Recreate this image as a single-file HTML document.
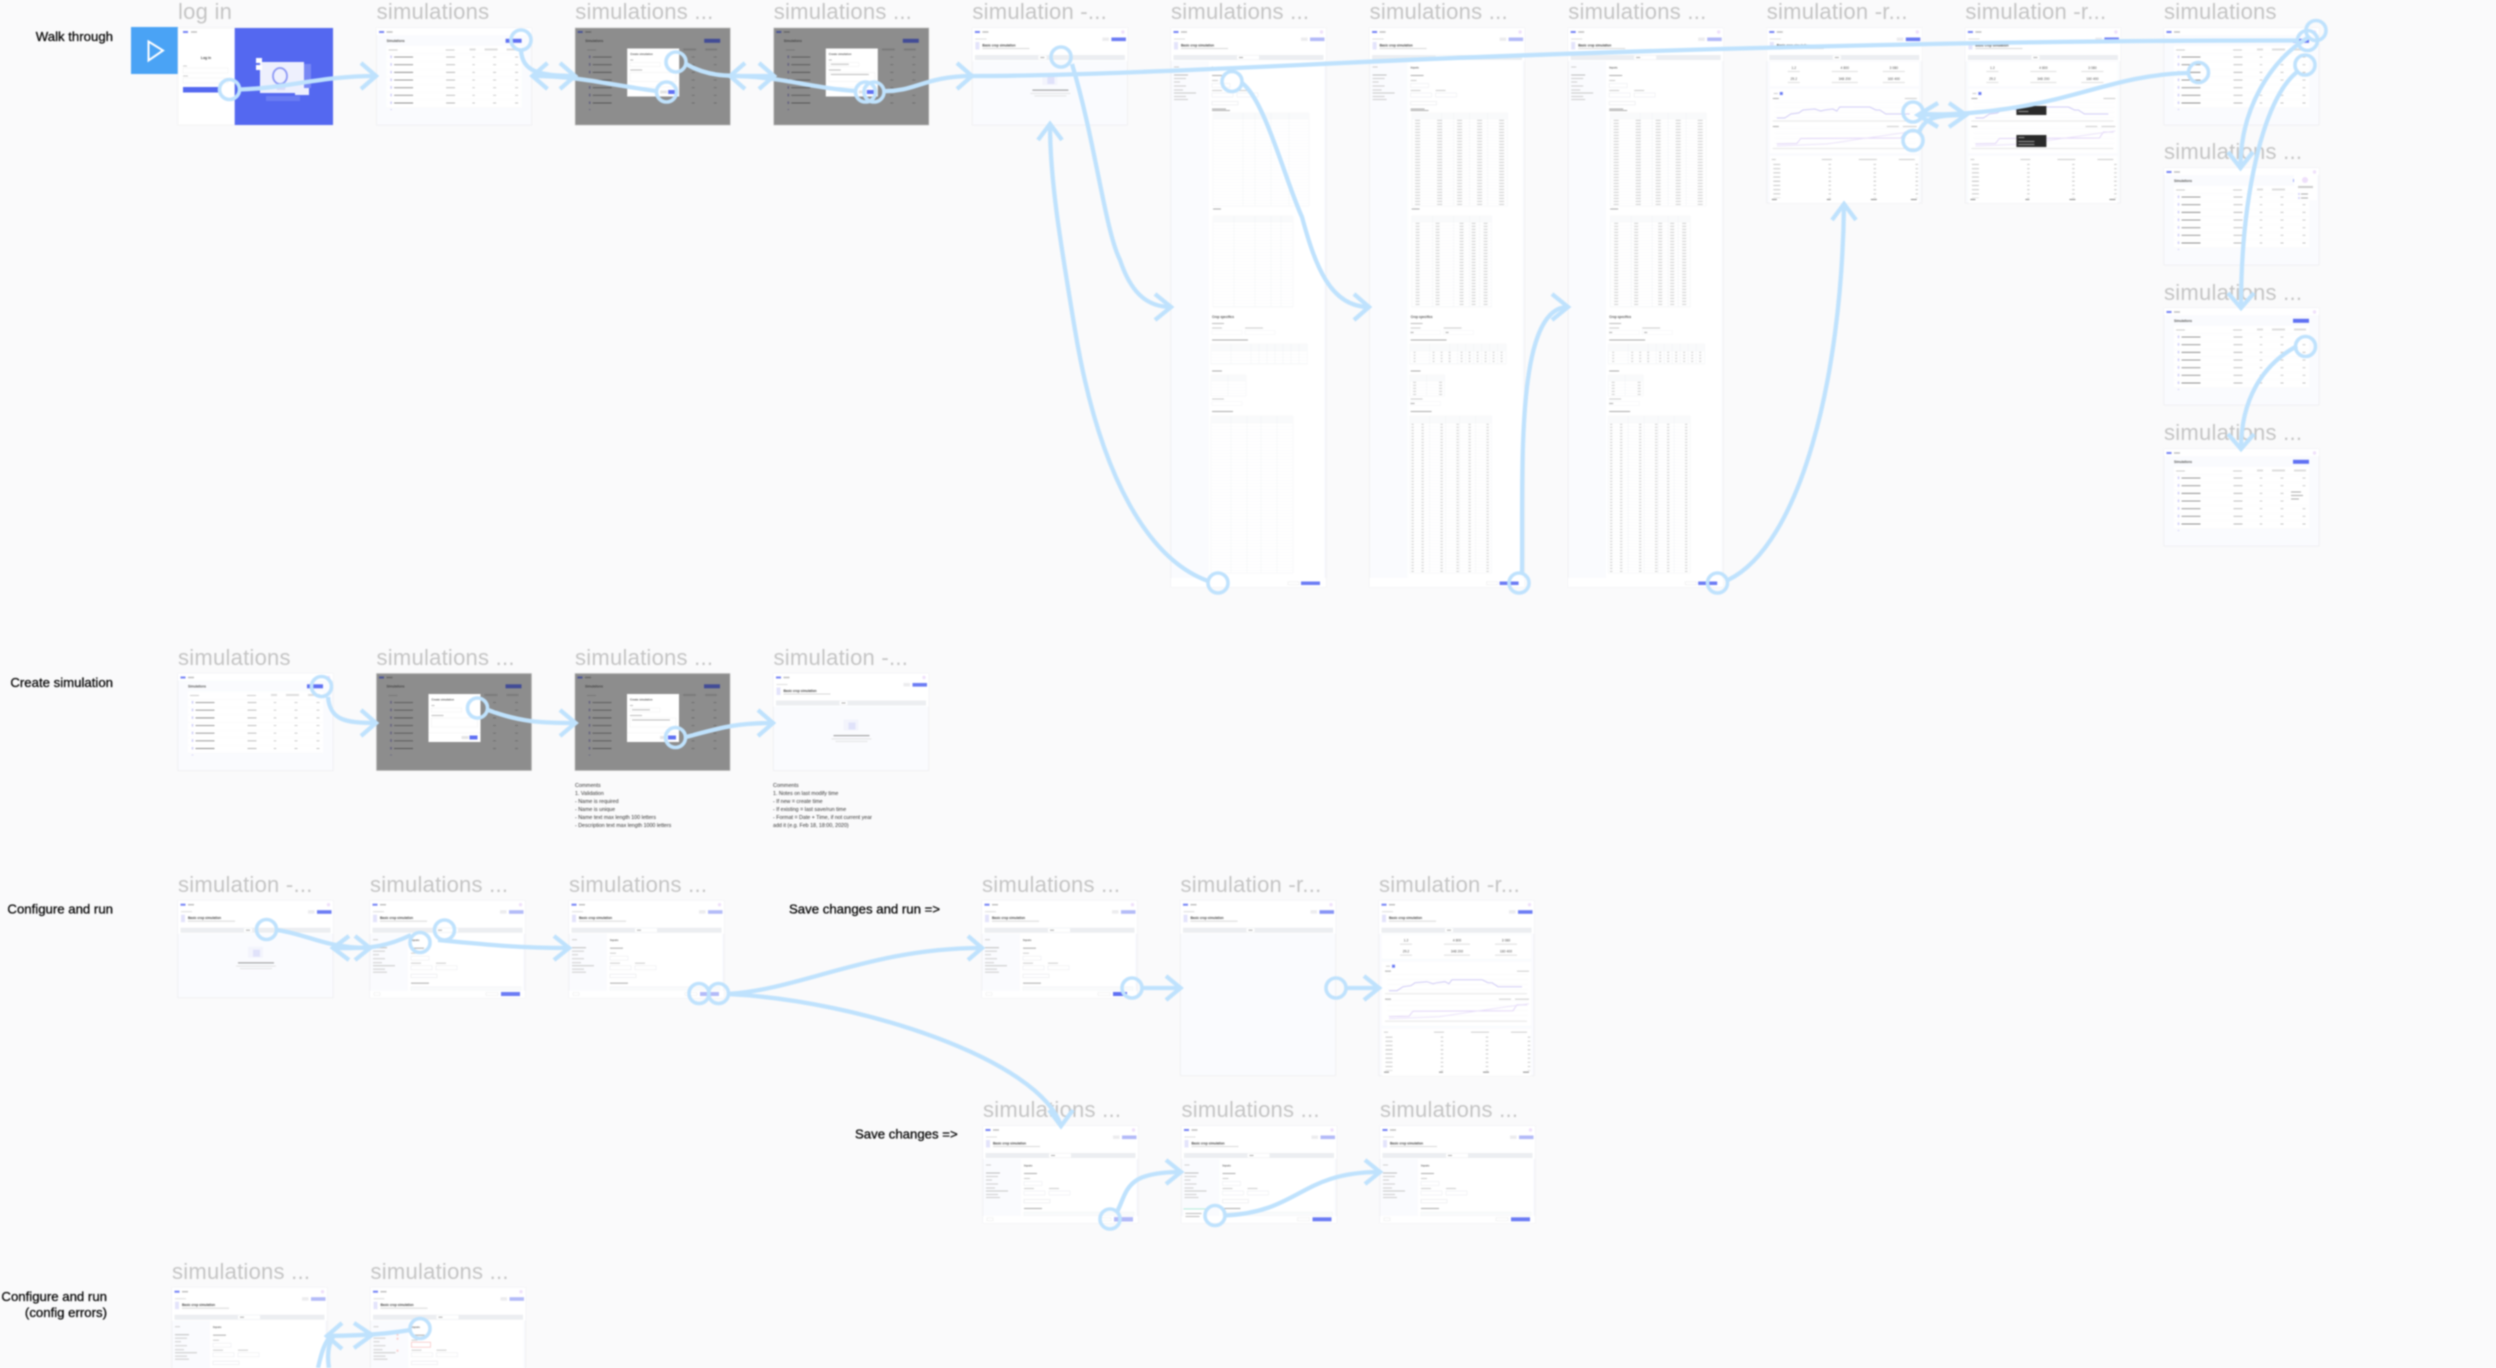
<!DOCTYPE html>
<html lang="en"><head><meta charset="utf-8"><title>Walk through flow</title>
<style>
html,body{margin:0;padding:0;width:2496px;height:1368px;overflow:hidden;background:#fafafb}
svg{display:block;filter:blur(.7px);font-family:"Liberation Sans",sans-serif}
.l{font-size:22px;fill:#c4c4c4;letter-spacing:.25px}
.h{font-size:13.2px;fill:#000;stroke:#000;stroke-width:.25}
.c{font-size:5.3px;fill:#333}
.cn{fill:none;stroke:#bfe2fd;stroke-width:4.3;stroke-linejoin:miter}
.r{fill:none;stroke:#bfe2fd;stroke-width:3.6}
</style></head><body>
<svg xmlns="http://www.w3.org/2000/svg" width="2496" height="1368" viewBox="0 0 2496 1368">
<defs>
<g id="hdr">
<rect x="2.5" y="3" width="5" height="2" fill="#7482f5"/><rect x="10" y="3.3" width="6" height="1.4" fill="#bbb"/><circle cx="150.5" cy="4" r="1.7" fill="#efe0fb"/>
</g>
<g id="listbody">
<text x="10" y="13.8" font-size="3.2" font-weight="bold" fill="#555">Simulations</text>
<rect x="10" y="18" width="135" height="62" fill="#fff"/>
<line x1="77" x2="77" y1="25.8" y2="80" stroke="#f3f4f6" stroke-width="135" stroke-dasharray=".3 7.36"/>
<rect x="12" y="21.5" width="9" height="1" fill="#ccc"/><rect x="69" y="21.5" width="9" height="1" fill="#ccc"/><rect x="93" y="20.5" width="6" height="2" fill="#ddd"/><rect x="108" y="20.5" width="13" height="2" fill="#ddd"/><rect x="130" y="20.5" width="12" height="2" fill="#ddd"/>
<line x1="14.5" x2="14.5" y1="27.5" y2="82" stroke="#cfcdf8" stroke-width="1.6" stroke-dasharray="2.6 5.06"/>
<line x1="27" x2="27" y1="28.6" y2="82" stroke="#8a8a8a" stroke-width="19" stroke-dasharray=".9 6.76"/>
<line x1="74" x2="74" y1="28.6" y2="82" stroke="#b5b5b5" stroke-width="9" stroke-dasharray=".9 6.76"/>
<line x1="97" x2="97" y1="28.6" y2="82" stroke="#c2c2c2" stroke-width="2.5" stroke-dasharray=".9 6.76"/>
<line x1="118" x2="118" y1="28.6" y2="82" stroke="#c2c2c2" stroke-width="3" stroke-dasharray=".9 6.76"/>
<line x1="140" x2="140" y1="28.6" y2="82" stroke="#c2c2c2" stroke-width="3" stroke-dasharray=".9 6.76"/>
</g>
<g id="list">
<rect width="155" height="97" fill="#fafbfe" stroke="#eeeef0" stroke-width=".8"/><rect width="155" height="7" fill="#fff"/>
<use href="#hdr"/><use href="#listbody"/><rect x="129" y="10.8" width="16" height="4" fill="#5f70f3"/>
</g>
<g id="listPop">
<use href="#list"/><rect x="125" y="9" width="22" height="7" fill="#fafbfe"/><rect x="129" y="11" width="2" height="3" fill="#a3acf7"/>
<rect x="130" y="7" width="23" height="25" fill="#fff"/><circle cx="141" cy="12" r="3" fill="#efe0fb"/><rect x="134" y="18" width="15" height="2" fill="#ccc"/><rect x="134" y="25" width="2" height="2" fill="#d9d7fb"/><rect x="137" y="25.5" width="7" height="1" fill="#aaa"/><rect x="134" y="29" width="2" height="2" fill="#d9d7fb"/><rect x="137" y="29.5" width="7" height="1" fill="#aaa"/>
</g>
<g id="listDrop">
<use href="#list"/><rect x="126" y="40" width="18" height="14" fill="#fff"/><rect x="127" y="42.5" width="10" height="1" fill="#aaa"/><rect x="127" y="46" width="12" height="1" fill="#aaa"/><rect x="127" y="49.5" width="8" height="1" fill="#aaa"/>
</g>
<g id="dim">
<rect width="155" height="97" fill="#8d8d8d" stroke="#bbb" stroke-width=".6"/>
<rect x="2.5" y="3" width="5" height="2" fill="#4a5496"/><rect x="10" y="3.3" width="6" height="1.4" fill="#666"/>
<text x="10" y="13.8" font-size="3.2" font-weight="bold" fill="#444">Simulations</text>
<rect x="129" y="10.8" width="16" height="4" fill="#424c96"/>
<rect x="12" y="21.5" width="9" height="1" fill="#777"/><rect x="108" y="20.5" width="13" height="2" fill="#7b7b7b"/><rect x="130" y="20.5" width="12" height="2" fill="#7b7b7b"/>
<line x1="14.5" x2="14.5" y1="27.5" y2="82" stroke="#64627f" stroke-width="1.6" stroke-dasharray="2.6 5.06"/>
<line x1="27" x2="27" y1="28.6" y2="82" stroke="#555" stroke-width="19" stroke-dasharray=".9 6.76"/>
<line x1="118" x2="118" y1="28.6" y2="82" stroke="#6c6c6c" stroke-width="3" stroke-dasharray=".9 6.76"/>
<line x1="140" x2="140" y1="28.6" y2="82" stroke="#6c6c6c" stroke-width="3" stroke-dasharray=".9 6.76"/>
<rect x="52" y="20.5" width="52" height="48" fill="#fff"/>
<text x="55" y="27" font-size="2.7" font-weight="bold" fill="#555">Create simulation</text>
<rect x="55" y="31.5" width="3" height="1" fill="#bbb"/><rect x="55" y="34.5" width="30" height="4" fill="none" stroke="#efefef" stroke-width=".5"/>
<rect x="55" y="41.5" width="12" height="1" fill="#bbb"/><rect x="55" y="44.5" width="46" height="9" fill="none" stroke="#efefef" stroke-width=".5"/>
<rect x="52" y="59" width="52" height=".4" fill="#eee"/>
<rect x="85" y="62.5" width="7" height="3" fill="#e4e4e4"/><rect x="93" y="62" width="8" height="4" fill="#5f70f3"/>
</g>
<g id="modalB"><use href="#dim"/><rect x="57" y="35.8" width="18" height="1" fill="#bbb"/><rect x="57" y="46" width="38" height="1" fill="#bbb"/></g>
<g id="top">
<rect width="155" height="33" fill="#fff"/><use href="#hdr"/>
<rect x="3" y="10.5" width="11" height="1" fill="#ddd"/>
<rect x="130" y="9.5" width="6.5" height="3.4" fill="#ececee"/>
<rect x="3" y="14" width="4" height="7.5" fill="#e4e4fb"/>
<text x="10" y="18.5" font-size="3.2" font-weight="bold" fill="#444">Basic crop simulation</text>
<rect x="10" y="20" width="47" height="1" fill="#d8d8d8"/>
<rect x="2.5" y="27" width="150" height="5" fill="#eceef1"/>
<rect x="66" y="27.6" width="8" height="3.8" fill="#fff"/><rect x="68" y="29" width="4" height="1" fill="#aaa"/>
</g>
<g id="base"><rect width="155" height="97" fill="#fafbfe" stroke="#eeeef0" stroke-width=".8"/><use href="#top"/></g>
<g id="empty">
<use href="#base"/><rect x="139" y="9.5" width="14.5" height="3.6" fill="#6b7bf4"/>
<rect x="70" y="46" width="15" height="11" fill="#f3f4fc"/><rect x="75" y="49" width="7" height="7" fill="#e0e2fa"/>
<rect x="60" y="61.7" width="36" height=".9" fill="#888"/><rect x="58" y="65" width="40" height=".8" fill="#ddd"/><rect x="62" y="67.5" width="32" height=".8" fill="#ddd"/>
</g>
<g id="emptyRun">
<rect width="155" height="175" fill="#fafbfe" stroke="#eeeef0" stroke-width=".8"/><use href="#top"/><rect x="139" y="9.5" width="14.5" height="3.6" fill="#8693f6"/>
</g>
<g id="side">
<rect x="74" y="27.6" width="14" height="3.8" fill="#fff"/>
<rect x="3" y="38.5" width="5" height="1" fill="#ccc"/><rect x="3" y="46.5" width="14" height="1" fill="#bbb"/><rect x="3" y="50" width="12" height="1" fill="#ccc"/><rect x="3" y="53.5" width="6" height="1" fill="#ccc"/><rect x="3" y="57.5" width="12" height="1" fill="#ccc"/><rect x="3" y="61.5" width="9" height="1" fill="#ccc"/><rect x="3" y="64.5" width="22" height="1" fill="#c6c6c6"/><rect x="3" y="68" width="12" height="1" fill="#ccc"/><rect x="3" y="71" width="14" height="1" fill="#ccc"/>
<rect x="38" y="33" width="115" height="60" fill="#fff"/>
<text x="41" y="40.5" font-size="2.8" font-weight="bold" fill="#666">Inputs</text>
<rect x="41" y="47" width="13" height="1" fill="#aaa"/><rect x="41" y="52" width="6" height="1" fill="#ccc"/><rect x="41" y="55.5" width="18" height="4" fill="none" stroke="#e8e9ed" stroke-width=".5"/>
<rect x="41" y="62" width="10" height="1" fill="#ccc"/><rect x="66" y="62" width="10" height="1" fill="#ccc"/>
<rect x="41" y="65" width="21" height="4" fill="none" stroke="#e8e9ed" stroke-width=".5"/><rect x="66" y="65" width="21" height="4" fill="none" stroke="#e8e9ed" stroke-width=".5"/>
<rect x="41" y="73.5" width="26" height="3.4" fill="none" stroke="#e3e4e8" stroke-width=".5"/>
<rect x="41" y="82" width="18" height="1" fill="#aaa"/>
</g>
<g id="config">
<use href="#base"/><rect x="139" y="9.5" width="14.5" height="3.6" fill="#b3baf8"/><use href="#side"/>
<rect x="41" y="86" width="110" height="4" fill="#f9fafb" stroke="#eeeff2" stroke-width=".4"/>
<rect y="90" width="155" height="7" fill="#fff"/><rect x="4" y="91.8" width="6" height="3" fill="none" stroke="#e3e3e3" stroke-width=".4"/>
<rect x="116" y="91.8" width="12" height="3" fill="none" stroke="#e3e3e3" stroke-width=".4"/><rect x="131" y="91.3" width="19" height="4" fill="#6b7bf4"/>
</g>
<g id="configSave"><use href="#config"/><rect x="131" y="91.3" width="19" height="4" fill="#fff"/><rect x="131" y="91.3" width="14" height="4" fill="#5f70f3"/></g>
<g id="configLite"><use href="#config"/><rect x="131" y="91.3" width="19" height="4" fill="#b3baf8"/></g>
<g id="configGreen"><use href="#config"/><rect x="2" y="83" width="22" height="14" fill="#fff"/><rect x="2" y="82.5" width="22" height=".8" fill="#9fe4cf"/><rect x="4" y="87" width="16" height="1" fill="#bbb"/><rect x="4" y="90" width="14" height="1" fill="#bbb"/></g>
<g id="configErr"><use href="#config"/><rect x="41" y="54.5" width="19" height="5" fill="#fff" stroke="#f4a8a8" stroke-width=".5"/><rect x="26" y="46" width="2" height="2" fill="#f9cfcf"/><rect x="26" y="50" width="2" height="2" fill="#f9cfcf"/><rect x="26" y="62" width="2" height="2" fill="#f9cfcf"/></g>
<g id="tall">
<rect width="155" height="559" fill="#fafbfe" stroke="#eeeef0" stroke-width=".8"/><use href="#top"/><rect x="139" y="9.5" width="14.5" height="3.6" fill="#b3baf8"/><use href="#side"/>
<rect x="38" y="93" width="115" height="457" fill="#fff"/>
<rect x="41" y="80.5" width="14" height="1" fill="#aaa"/>
<rect x="42" y="85" width="96" height="93" fill="#fff" stroke="#eef0f3" stroke-width=".4"/><rect x="42" y="85" width="96" height="6" fill="#f9fafb"/>
<line x1="90" x2="90" y1="91" y2="178" stroke="#f0f2f4" stroke-width="96" stroke-dasharray=".3 2.7"/>
<path d="M72 85v93M84 85v93M100 85v93M118 85v93" stroke="#eef0f3" stroke-width=".4" fill="none"/>
<rect x="42" y="180.5" width="8" height="1" fill="#aaa"/>
<rect x="42" y="188" width="80" height="91" fill="#fff" stroke="#eef0f3" stroke-width=".4"/><rect x="42" y="188" width="80" height="6" fill="#f9fafb"/>
<line x1="82" x2="82" y1="194" y2="279" stroke="#f0f2f4" stroke-width="80" stroke-dasharray=".3 2.7"/>
<path d="M63 188v91M84 188v91M100 188v91M110 188v91" stroke="#eef0f3" stroke-width=".4" fill="none"/>
<text x="41" y="290" font-size="3.2" font-weight="bold" fill="#555">Crop specifics</text>
<rect x="41" y="295" width="12" height="1" fill="#bbb"/><rect x="41" y="299.5" width="10" height="1" fill="#ccc"/><rect x="74" y="299.5" width="18" height="1" fill="#ccc"/><rect x="41" y="302.5" width="30" height="4" fill="none" stroke="#eef0f3" stroke-width=".4"/><rect x="74" y="302.5" width="30" height="4" fill="none" stroke="#eef0f3" stroke-width=".4"/>
<rect x="41" y="311.5" width="36" height="1" fill="#aaa"/>
<rect x="40" y="316" width="96.5" height="20" fill="#fff" stroke="#eef0f3" stroke-width=".4"/><rect x="40" y="316" width="96.5" height="7" fill="#f9fafb"/>
<line x1="88" x2="88" y1="323" y2="336" stroke="#f0f2f4" stroke-width="96" stroke-dasharray=".3 2.7"/>
<path d="M60 316v20M80 316v20M88 316v20M96 316v20M104 316v20M112 316v20M120 316v20M128 316v20" stroke="#eef0f3" stroke-width=".4" fill="none"/>
<rect x="41" y="342.5" width="10" height="1" fill="#aaa"/>
<rect x="40" y="347" width="35" height="21" fill="#fff" stroke="#eef0f3" stroke-width=".4"/><rect x="40" y="347" width="35" height="6" fill="#f9fafb"/>
<line x1="57.5" x2="57.5" y1="353" y2="368" stroke="#f0f2f4" stroke-width="35" stroke-dasharray=".3 2.7"/>
<path d="M57 347v21" stroke="#eef0f3" stroke-width=".4"/>
<rect x="41" y="370.5" width="12" height="1" fill="#ccc"/><rect x="41" y="373.5" width="30" height="4" fill="none" stroke="#eef0f3" stroke-width=".4"/>
<rect x="41" y="383" width="21" height="1" fill="#aaa"/>
<rect x="40" y="388" width="82" height="157" fill="#fff" stroke="#eef0f3" stroke-width=".4"/><rect x="40" y="388" width="82" height="7" fill="#f9fafb"/>
<line x1="81" x2="81" y1="395" y2="545" stroke="#f0f2f4" stroke-width="82" stroke-dasharray=".3 2.7"/>
<path d="M60 388v157M76 388v157M90 388v157M106 388v157" stroke="#eef0f3" stroke-width=".4" fill="none"/>
<rect y="550" width="155" height="9" fill="#fff"/>
<rect x="117" y="553.8" width="11" height="3" fill="none" stroke="#e3e3e3" stroke-width=".4"/><rect x="130" y="553.5" width="19" height="3.5" fill="#6b7bf4"/>
</g>
<g id="tallData">
<use href="#tall"/>
<g stroke="#bdbdbd" stroke-dasharray=".7 2.3" fill="none">
<path d="M48 92V178M70 92V178M90 92V178M110 92V178M132 92V178" stroke-width="5"/>
<path d="M48 195V279M68 195V279M92 195V279M104 195V279M116 195V279" stroke-width="4"/>
<path d="M45 324V336M64 324V336M72 324V336M80 324V336M92 324V336M100 324V336M108 324V336M116 324V336M124 324V336M132 324V336" stroke-width="2"/>
<path d="M45 354V368M71 354V368" stroke-width="3"/>
<path d="M43 396V545M53 396V545M72 396V545M88 396V545M100 396V545M118 396V545" stroke-width="2.4"/>
</g>
<rect x="41" y="304" width="3" height="1" fill="#aaa"/><rect x="76" y="304" width="3" height="1" fill="#aaa"/>
<rect x="41" y="375" width="4" height="1" fill="#aaa"/>
</g>
<g id="result">
<rect width="155" height="175" fill="#fafbfe" stroke="#eeeef0" stroke-width=".8"/><use href="#top"/><rect x="139" y="9.5" width="14.5" height="3.6" fill="#6b7bf4"/>
<rect x="3" y="34" width="149" height="24" fill="#fff"/>
<g font-size="3.4" fill="#555" text-anchor="middle"><text x="27" y="41">1.2</text><text x="78" y="41">4 800</text><text x="127" y="41">3 080</text><text x="27" y="52">29.2</text><text x="78" y="52">348 200</text><text x="127" y="52">160 400</text></g>
<g fill="#ddd"><rect x="21" y="43" width="12" height="1"/><rect x="65" y="43" width="26" height="1"/><rect x="116" y="43" width="22" height="1"/><rect x="21" y="54" width="12" height="1"/><rect x="65" y="54" width="26" height="1"/><rect x="116" y="54" width="22" height="1"/></g>
<rect x="3" y="61" width="149" height="64" fill="#fff"/>
<rect x="7" y="65" width="4" height="1" fill="#ccc"/><rect x="13" y="64" width="3" height="3" fill="#6b7bf4"/>
<rect x="6" y="70" width="6" height="1" fill="#aaa"/><rect x="138" y="70" width="12" height="1" fill="#ccc"/>
<path d="M8 74h141M8 79h141M8 84h141M8 89h141M8 100h141M8 105h141M8 110h141M8 115h141" stroke="#f4f4f6" stroke-width=".4"/>
<path d="M10 90h8l6-4 8-1 4-3 12-1 6 2 4-1 8-1 4 2 3-4 30 0 6 3 4 0 6 4 24 0" fill="none" stroke="#cfcaf6" stroke-width="1"/>
<rect x="6" y="98" width="6" height="1" fill="#aaa"/><rect x="120" y="98" width="12" height="1" fill="#ccc"/><rect x="136" y="98" width="14" height="1" fill="#ccc"/>
<path d="M10 116l20-.5 4-5 100-.5 4-6 10 0" fill="none" stroke="#e2d5f8" stroke-width="1"/><path d="M10 118l50-2 40-6 50-7" fill="none" stroke="#ebe3fa" stroke-width="1"/>
<g fill="#e6e6e6"><rect x="6" y="92.5" width="142" height="1"/><rect x="6" y="120" width="142" height="1"/></g>
<rect x="3" y="128" width="149" height="47" fill="#fff"/>
<g stroke="#c0c0c0" fill="none" stroke-dasharray=".9 3.3"><path d="M10 136V170" stroke-width="7"/><path d="M63 136V170" stroke-width="2.5"/><path d="M108 136V170" stroke-width="2.5"/><path d="M150 136V170" stroke-width="2.5"/></g>
<rect x="5" y="131" width="4" height="1" fill="#ccc"/><rect x="55" y="131" width="10" height="1" fill="#ccc"/><rect x="92" y="131" width="18" height="1" fill="#ccc"/><rect x="132" y="131" width="16" height="1" fill="#ccc"/>
<rect x="5" y="171" width="5" height="1" fill="#888"/><rect x="60" y="171" width="4" height="1" fill="#888"/><rect x="104" y="171" width="6" height="1" fill="#888"/><rect x="144" y="171" width="6" height="1" fill="#888"/>
</g>
<g id="result2"><use href="#result"/><rect x="51" y="78" width="30" height="9" fill="#2a2a2a"/><rect x="53" y="83" width="10" height="1" fill="#999"/><rect x="51" y="107" width="30" height="12" fill="#2a2a2a"/><rect x="53" y="109" width="6" height="1" fill="#999"/><rect x="53" y="113" width="16" height="1" fill="#999"/><rect x="53" y="116" width="16" height="1" fill="#999"/></g>
<g id="login">
<rect width="155" height="97" fill="#fff" stroke="#eee" stroke-width=".6"/><rect x="56.7" width="98.3" height="97" fill="#5468f0"/>
<rect x="5" y="3" width="5" height="2" fill="#7482f5"/><rect x="13" y="3.3" width="6" height="1.4" fill="#bbb"/>
<text x="28" y="31" font-size="3.4" font-weight="bold" fill="#444" text-anchor="middle">Log in</text>
<rect x="5" y="37.5" width="4" height="1" fill="#ccc"/><rect x="5" y="40" width="45" height="5" fill="none" stroke="#f0f0f0" stroke-width=".5"/>
<rect x="5" y="47.5" width="5" height="1" fill="#ccc"/><rect x="5" y="50" width="45" height="5" fill="none" stroke="#f0f0f0" stroke-width=".5"/>
<rect x="5" y="59" width="38" height="5.5" fill="#5468f0"/>
<rect x="82" y="34" width="44" height="31" fill="#eef0fd"/><rect x="78" y="30" width="6" height="5" fill="#fff"/><rect x="78" y="37" width="6" height="5" fill="#fff"/><rect x="117" y="60" width="14" height="7" fill="#eef0fd"/><rect x="126" y="36" width="7" height="24" fill="#7787f4"/>
<ellipse cx="102" cy="48" rx="7" ry="8" fill="none" stroke="#8a97f5" stroke-width="1.8"/><path d="M98 58h10l-1 4h-8z" fill="#d6daf9"/><rect x="88" y="68" width="34" height="5" fill="#6a7cf2"/>
</g>
<clipPath id="bot"><rect x="0" y="1200" width="2496" height="168"/></clipPath>
</defs>

<!-- row labels -->
<text class="h" x="113" y="41" text-anchor="end">Walk through</text>
<text class="h" x="113" y="687" text-anchor="end">Create simulation</text>
<text class="h" x="113" y="913.5" text-anchor="end">Configure and run</text>
<text class="h" x="107" y="1301" text-anchor="end">Configure and run</text>
<text class="h" x="107" y="1317" text-anchor="end">(config errors)</text>
<text class="h" x="789" y="913.5">Save changes and run =&gt;</text>
<text class="h" x="855" y="1138.5">Save changes =&gt;</text>

<!-- play -->
<rect x="131" y="27" width="47" height="47" fill="#4aa3f5"/>
<path d="M148.5 41.5L163 50.5L148.5 60.5Z" fill="none" stroke="#fff" stroke-width="2"/>

<!-- frame titles -->
<g>
<text class="l" x="178" y="19">log in</text>
<text class="l" x="376.6" y="19">simulations</text>
<text class="l" x="575.2" y="19">simulations ...</text>
<text class="l" x="773.8" y="19">simulations ...</text>
<text class="l" x="972.4" y="19">simulation -...</text>
<text class="l" x="1171" y="19">simulations ...</text>
<text class="l" x="1369.6" y="19">simulations ...</text>
<text class="l" x="1568.2" y="19">simulations ...</text>
<text class="l" x="1766.8" y="19">simulation -r...</text>
<text class="l" x="1965.4" y="19">simulation -r...</text>
<text class="l" x="2164" y="19">simulations</text>
<text class="l" x="2164" y="159">simulations ...</text>
<text class="l" x="2164" y="300">simulations ...</text>
<text class="l" x="2164" y="440">simulations ...</text>
<text class="l" x="178" y="665">simulations</text>
<text class="l" x="376.5" y="665">simulations ...</text>
<text class="l" x="575" y="665">simulations ...</text>
<text class="l" x="773.5" y="665">simulation -...</text>
<text class="l" x="178" y="892">simulation -...</text>
<text class="l" x="370" y="892">simulations ...</text>
<text class="l" x="569" y="892">simulations ...</text>
<text class="l" x="982" y="892">simulations ...</text>
<text class="l" x="1180.5" y="892">simulation -r...</text>
<text class="l" x="1379" y="892">simulation -r...</text>
<text class="l" x="983" y="1117">simulations ...</text>
<text class="l" x="1181.5" y="1117">simulations ...</text>
<text class="l" x="1380" y="1117">simulations ...</text>
<text class="l" x="172" y="1279">simulations ...</text>
<text class="l" x="370.5" y="1279">simulations ...</text>
</g>

<!-- frames -->
<use href="#login" x="178" y="28"/>
<use href="#list" x="376.6" y="28"/>
<use href="#dim" x="575.2" y="28"/>
<use href="#modalB" x="773.8" y="28"/>
<use href="#empty" x="972.4" y="28"/>
<use href="#tall" x="1171" y="28"/>
<use href="#tallData" x="1369.6" y="28"/>
<use href="#tallData" x="1568.2" y="28"/>
<use href="#result" x="1766.8" y="28"/>
<use href="#result2" x="1965.4" y="28"/>
<use href="#list" x="2164" y="28"/>
<use href="#listPop" x="2164" y="168"/>
<use href="#list" x="2164" y="308"/>
<use href="#listDrop" x="2164" y="449"/>

<use href="#list" x="178" y="673.5"/>
<use href="#dim" x="376.5" y="673.5"/>
<use href="#modalB" x="575" y="673.5"/>
<use href="#empty" x="773.5" y="673.5"/>

<use href="#empty" x="178" y="900.7"/>
<use href="#config" x="370" y="900.7"/>
<use href="#configLite" x="569" y="900.7"/>
<use href="#configSave" x="982" y="900.7"/>
<use href="#emptyRun" x="1180.5" y="900.7"/>
<use href="#result" x="1379" y="900.7"/>
<use href="#configLite" x="983" y="1126"/>
<use href="#configGreen" x="1181.5" y="1126"/>
<use href="#config" x="1380" y="1126"/>
<g clip-path="url(#bot)"><use href="#config" x="172" y="1287.7"/><use href="#configErr" x="370.5" y="1287.7"/></g>

<!-- comments -->
<g class="c">
<text x="575" y="787">Comments</text><text x="575" y="795">1. Validation</text><text x="575" y="803">- Name is required</text><text x="575" y="811">- Name is unique</text><text x="575" y="819">- Name text max length 100 letters</text><text x="575" y="827">- Description text max length 1000 letters</text>
<text x="773" y="787">Comments</text><text x="773" y="795">1. Notes on last modify time</text><text x="773" y="803">- If new = create time</text><text x="773" y="811">- If existing = last save/run time</text><text x="773" y="819">- Format = Date + Time, if not current year</text><text x="773" y="827">add it (e.g. Feb 18, 18:00, 2020)</text>
</g>

<!-- connectors -->
<g class="cn">
<path d="M239 89.5C290 88 320 76 376 76"/><path d="M361 63L376 76L361 89"/>
<path d="M521 50C522 72 540 76 575 76"/><path d="M560 63L575 76L560 89"/>
<path d="M686 64C710 78 730 76 774 76"/><path d="M759 63L774 76L759 89"/>
<path d="M656 91C610 85 580 76 532.5 76"/><path d="M547.5 63L532.5 76L547.5 89"/>
<path d="M856 91C810 88 780 76 730 76"/><path d="M745 63L730 76L745 89"/>
<path d="M884 91C915 92 925 76 972 76"/><path d="M957 63L972 76L957 89"/>
<path d="M2297 40.5C2000 40 1600 50 1300 65C1150 72 1050 76 972 76"/>
<path d="M1072 64C1095 140 1105 230 1120 260C1130 290 1145 307 1171 307"/><path d="M1155 294L1171 307L1155 320"/>
<path d="M1208 581C1150 560 1100 480 1075 330C1060 240 1050 180 1050 124"/><path d="M1038 140L1050 124L1062 140"/>
<path d="M1242 83C1265 100 1285 180 1302 217C1315 265 1330 307 1369 307"/><path d="M1354 294L1369 307L1354 320"/>
<path d="M1522 573C1523 470 1515 307 1568 307"/><path d="M1552 294L1568 307L1552 320"/>
<path d="M1728 580C1800 545 1842 380 1844 204"/><path d="M1832 220L1844 204L1856 220"/>
<path d="M2309 37C2270 60 2240 110 2240.5 168"/><path d="M2228 152L2240.5 168L2253 152"/>
<path d="M2297 72C2262 100 2241 200 2241 308"/><path d="M2228 293L2241 308L2254 293"/>
<path d="M2188 73C2100 75 2060 115 1918 115"/><path d="M1938 103L1918 115L1938 127"/>
<path d="M1923 114L1966 115"/><path d="M1949 103L1966 115L1949 127"/>
<path d="M1919 132C1925 118 1935 115 1966 115"/>
<path d="M2297 346C2262 365 2241 400 2241 449"/><path d="M2228 434L2241 449L2254 434"/>

<path d="M328 697C330 720 345 723 376 723"/><path d="M361 710L376 723L361 736"/>
<path d="M488 710C520 722 540 723 575.5 723"/><path d="M560 710L575.5 723L560 736"/>
<path d="M686 737C720 728 735 723 773 723"/><path d="M758 710L773 723L758 736"/>

<path d="M277 930C310 935 325 948 370 948"/><path d="M355 936L370 948L355 960"/>
<path d="M411 935C380 950 360 948 333 948"/><path d="M349 936L333 948L349 960"/>
<path d="M438 940C490 945 520 948 569 948"/><path d="M554 936L569 948L554 960"/>
<path d="M727 994C800 990 870 948 982 948"/><path d="M968 936L982 948L968 960"/>
<path d="M727 994C860 1000 1040 1060 1061 1126"/><path d="M1049 1110L1061 1126L1073 1110"/>
<path d="M1142 988L1180.5 988"/><path d="M1166 976L1180.5 988L1166 1000"/>
<path d="M1346 988L1379 988"/><path d="M1364 976L1379 988L1364 1000"/>
<path d="M1117 1212C1128 1190 1125 1172 1181 1172"/><path d="M1166 1160L1181 1172L1166 1184"/>
<path d="M1225 1215.5C1300 1212 1300 1172 1380 1172"/><path d="M1365 1160L1380 1172L1365 1184"/>

<path d="M410 1330C390 1333 380 1335 327 1336"/><path d="M342 1323L327 1336L342 1349"/>
<path d="M354 1323L372 1335L354 1348"/><path d="M318 1368C322 1350 325 1342 331 1336"/><path d="M329 1368C327 1355 328 1345 333 1337"/>
</g>
<g class="r">
<circle cx="229.5" cy="89.5" r="10"/>
<circle cx="521" cy="40" r="10"/>
<circle cx="676" cy="62" r="10"/><circle cx="666.5" cy="92" r="10"/>
<circle cx="865.5" cy="92" r="10"/><circle cx="874" cy="92" r="10"/>
<circle cx="1061" cy="57" r="10"/><circle cx="1232" cy="81.5" r="10"/>
<circle cx="2316" cy="30.5" r="10"/><circle cx="2307.5" cy="40.5" r="10"/><circle cx="2305" cy="65" r="10"/><circle cx="2198.5" cy="72.5" r="10"/>
<circle cx="2305.5" cy="346.5" r="10"/>
<circle cx="1913" cy="112" r="10"/><circle cx="1913" cy="140.5" r="10"/>
<circle cx="1218" cy="583" r="10"/><circle cx="1519" cy="583" r="10"/><circle cx="1717.5" cy="583" r="10"/>
<circle cx="321.5" cy="686.5" r="10"/><circle cx="477.5" cy="708" r="10"/><circle cx="675.5" cy="737.5" r="10"/>
<circle cx="266.5" cy="929.5" r="10"/><circle cx="420" cy="942.5" r="10"/><circle cx="444.5" cy="930" r="10"/><circle cx="699" cy="993.5" r="10"/><circle cx="718.5" cy="993.5" r="10"/>
<circle cx="1132" cy="988" r="10"/><circle cx="1336" cy="988" r="10"/><circle cx="1110" cy="1219" r="10"/><circle cx="1215" cy="1215.5" r="10"/>
<circle cx="420" cy="1328.5" r="10"/>
</g>
</svg>
</body></html>
